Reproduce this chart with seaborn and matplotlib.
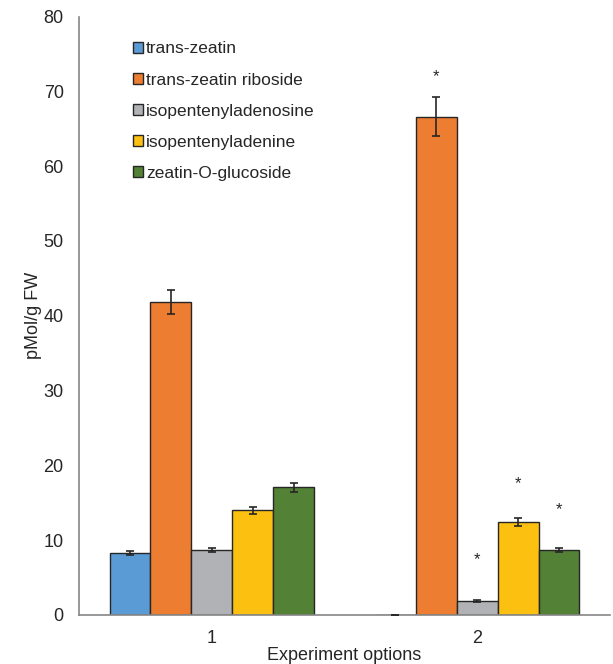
import numpy as np
import pandas as pd
import matplotlib
matplotlib.use("Agg")
import matplotlib.pyplot as plt
import seaborn as sns
from matplotlib.ticker import FixedLocator

# data
options = ["1", "2"]
compounds = ["trans-zeatin", "trans-zeatin riboside", "isopentenyladenosine",
             "isopentenyladenine", "zeatin-O-glucoside"]
values_1 = [8.3, 41.8, 8.7, 14.0, 17.1]
values_2 = [0.0, 66.6, 1.9, 12.4, 8.7]
errors_1 = [0.3, 1.6, 0.3, 0.5, 0.6]
errors_2 = [0.05, 2.6, 0.1, 0.5, 0.3]
# asterisks (significance) above option 2 bars, y in pMol/g FW
star_y_2 = [None, 72.0, 7.4, 17.6, 14.1]

palette = ["#5B9BD5", "#ED7D31", "#B1B2B5", "#FCC010", "#538135"]

df = pd.DataFrame({
    "option": np.repeat(options, len(compounds)),
    "compound": compounds * len(options),
    "value": values_1 + values_2,
})
errs = errors_1 + errors_2
stars = [None] * len(compounds) + star_y_2

sns.set_style("white")
plt.rcParams["font.family"] = ["Liberation Sans", "DejaVu Sans"]
text_col = "#262626"

fig = plt.figure(figsize=(6.13, 6.64), dpi=100)
ax = fig.add_axes([0.1289, 0.0738, 0.8662, 0.9013])

sns.barplot(data=df, x="option", y="value", hue="compound", hue_order=compounds,
            palette=palette, width=0.77, gap=0, errorbar=None, saturation=1,
            edgecolor="#262626", linewidth=1.0, ax=ax)

# error bars and asterisks placed from the drawn bars
bar_containers = list(ax.containers)
for ci, cont in enumerate(bar_containers):
    for oi, bar in enumerate(cont.patches):
        k = oi * len(compounds) + ci
        xc = bar.get_x() + bar.get_width() / 2
        h = bar.get_height()
        ax.errorbar(xc, h, yerr=errs[k], fmt="none", ecolor="#262626",
                    elinewidth=1.2, capsize=2.6, capthick=1.2, zorder=5)
        if stars[k] is not None:
            ax.text(xc, stars[k], "*", ha="center", va="center",
                    fontsize=12, color=text_col)

ax.set_ylim(0, 80)
ax.set_xlim(-0.5, 1.5)
ax.set_yticks(range(0, 81, 10))
ax.xaxis.set_minor_locator(FixedLocator([-0.5, 0.5, 1.5]))
ax.tick_params(axis="x", which="major", length=0, pad=11, labelsize=13, colors=text_col)
ax.tick_params(axis="x", which="minor", length=5, width=1, color="#868686", direction="out")
ax.tick_params(axis="y", length=5, width=1, color="#868686", direction="out",
               labelsize=13, labelcolor=text_col, pad=6)
ax.tick_params(axis="x", labelcolor=text_col)

for s in ["top", "right"]:
    ax.spines[s].set_visible(False)
for s in ["left", "bottom"]:
    ax.spines[s].set_color("#868686")
    ax.spines[s].set_linewidth(1.2)

ax.set_xlabel("Experiment options", fontsize=13, color=text_col, labelpad=0)
ax.set_ylabel("pMol/g FW", fontsize=13, color=text_col, labelpad=1)

ax.legend(loc="upper left", bbox_to_anchor=(0.0885, 0.970), frameon=False,
          fontsize=12.5, handlelength=0.58, handleheight=0.58, handletextpad=0.17,
          labelspacing=0.93, borderaxespad=0)

fig.savefig("out.png", dpi=100)
plt.close(fig)
